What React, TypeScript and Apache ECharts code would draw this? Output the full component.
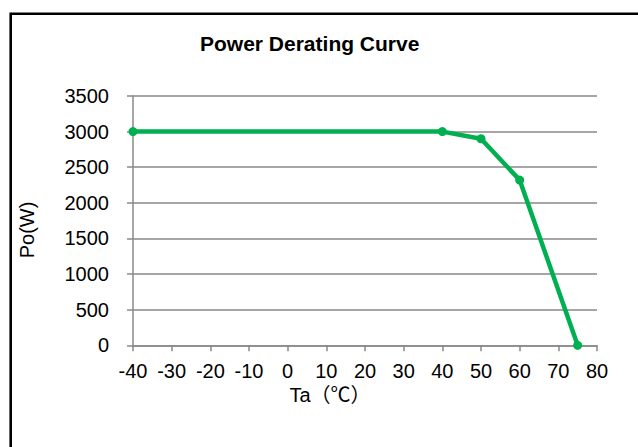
import React, { useEffect, useRef } from "react";
import * as echarts from "echarts";

const temperatures = [-40, 40, 50, 60, 75];
const powerW = [3000, 3000, 2900, 2320, 0];
const xRange = { min: -40, max: 80, interval: 10 };
const yRange = { min: 0, max: 3500, interval: 500 };
const titleText = "Power Derating Curve";
const xTitle = "Ta（℃）";
const yTitle = "Po(W)";

const FONT = "'Liberation Sans', Arial, 'Noto Sans CJK SC', sans-serif";

export default function App() {
  const ref = useRef<HTMLDivElement>(null);
  useEffect(() => {
    document.body.style.margin = "0";
    const chart = echarts.init(ref.current!, null, { renderer: "svg" });
    const axisGray = "#898989";
    chart.setOption({
      animation: false,
      backgroundColor: "#fff",
      title: {
        text: titleText,
        left: 200,
        top: 33,
        padding: 0,
        textStyle: { fontFamily: FONT, fontSize: 21, fontWeight: "bold", color: "#000" },
      },
      grid: { left: 133, top: 96, width: 464, height: 249.3, containLabel: false },
      xAxis: {
        type: "value",
        min: xRange.min,
        max: xRange.max,
        interval: xRange.interval,
        axisLine: { show: true, onZero: false, lineStyle: { color: axisGray, width: 1.5 } },
        axisTick: { show: true, inside: false, length: 6, lineStyle: { color: axisGray, width: 1.5 } },
        axisLabel: { margin: 16, fontFamily: FONT, fontSize: 20, color: "#000", formatter: (v: number) => String(v) },
        splitLine: { show: false },
      },
      yAxis: {
        type: "value",
        min: yRange.min,
        max: yRange.max,
        interval: yRange.interval,
        axisLine: { show: true, onZero: false, lineStyle: { color: axisGray, width: 1.5 } },
        axisTick: { show: true, inside: false, length: 6, lineStyle: { color: axisGray, width: 1.5 } },
        axisLabel: { margin: 24, fontFamily: FONT, fontSize: 20, color: "#000", formatter: (v: number) => String(v) },
        splitLine: { show: true, lineStyle: { color: axisGray, width: 1.5 } },
      },
      graphic: [
        {
          type: "rect",
          silent: true,
          z: -10,
          shape: { x: 10.7, y: 13.8, width: 800, height: 600 },
          style: { fill: "none", stroke: "#000", lineWidth: 2.6 },
        },
        {
          type: "text",
          x: 27,
          y: 230,
          rotation: Math.PI / 2,
          style: {
            text: yTitle,
            align: "center",
            verticalAlign: "middle",
            font: `20px ${FONT}`,
            fill: "#000",
          },
        },
        {
          type: "text",
          x: 330,
          y: 395,
          style: {
            text: xTitle,
            align: "center",
            verticalAlign: "middle",
            font: `20px ${FONT}`,
            fill: "#000",
          },
        },
      ],
      series: [
        {
          type: "line",
          data: temperatures.map((t, i) => [t, powerW[i]]),
          symbol: "circle",
          symbolSize: 9,
          lineStyle: { color: "#00B050", width: 4.5 },
          itemStyle: { color: "#00B050" },
          clip: false,
        },
      ],
    });
    return () => chart.dispose();
  }, []);
  return <div ref={ref} style={{ width: 638, height: 447 }} />;
}
